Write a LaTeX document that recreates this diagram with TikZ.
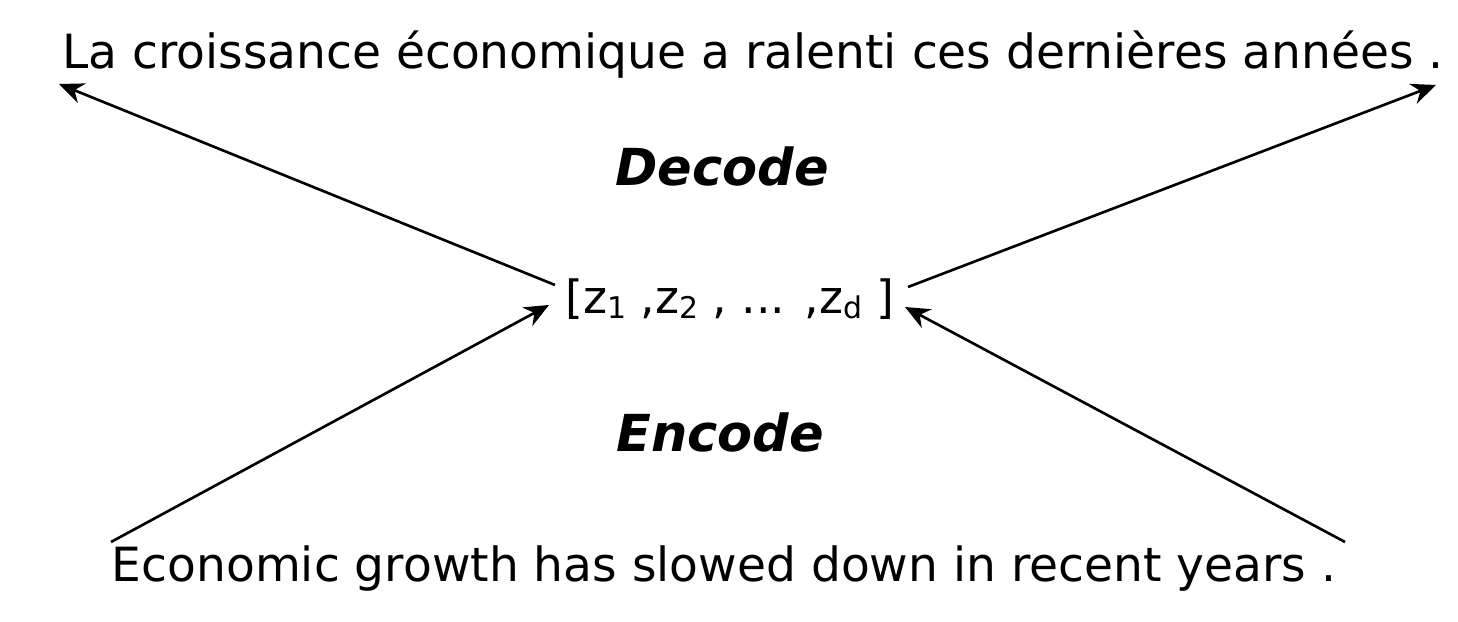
\documentclass[tikz,border=0pt]{standalone}
\usepackage{fontspec}
\setmainfont{DejaVu Sans}
\usetikzlibrary{arrows.meta}
\newcommand{\zsub}[1]{\raisebox{-0.2ex}{\fontsize{8.5}{10}\selectfont #1}}
\tikzset{
  sent/.style={inner sep=0pt, font=\fontsize{13.4}{16}\selectfont},
  step label/.style={inner sep=0pt, font=\fontsize{14.5}{17}\selectfont\bfseries\itshape},
  map/.style={line width=0.75pt, -{Stealth[length=7pt,width=6pt]}}
}
\begin{document}
\begin{tikzpicture}[x=0.01cm,y=-0.01cm]
\useasboundingbox (0,0) rectangle (1458,622);
\node[sent] (fr) at (753,55) {La croissance économique a ralenti ces dernières années .};
\node[step label] (dec) at (722,166) {Decode};
\node[sent, font=\fontsize{13}{16}\selectfont] (z) at (730,299) {[z\zsub{1} ,z\zsub{2} , ... ,z\zsub{d} ]};
\node[step label] (enc) at (720,432) {Encode};
\node[sent] (en) at (724,569) {Economic growth has slowed down in recent years .};
\coordinate (frL) at (59,84);
\coordinate (frR) at (1436,85);
\coordinate (enL) at (111,542);
\coordinate (enR) at (1345,542);
\coordinate (zLt) at (555,285);
\coordinate (zRt) at (908,287);
\coordinate (zLb) at (549,305);
\coordinate (zRb) at (905,307);
\draw[map] (zLt) -- (frL);
\draw[map] (zRt) -- (frR);
\draw[map] (enL) -- (zLb);
\draw[map] (enR) -- (zRb);
\end{tikzpicture}
\end{document}
